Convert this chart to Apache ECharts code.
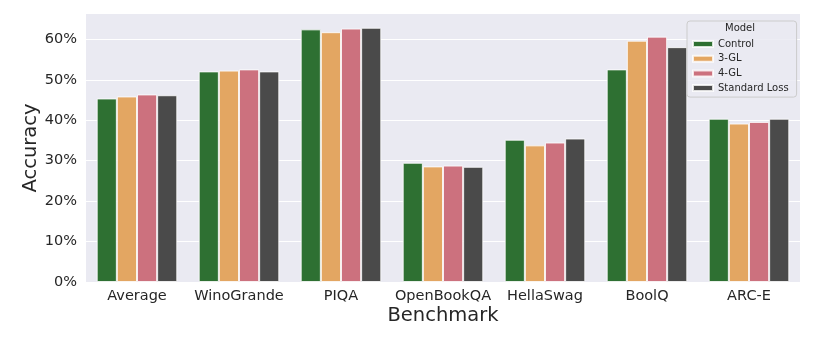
<!DOCTYPE html>
<html>
<head>
<meta charset="utf-8">
<script src="https://cdn.jsdelivr.net/npm/echarts@6/dist/echarts.min.js"></script>
<style>
html,body{margin:0;padding:0;background:#fff;}
#chart{width:821px;height:338px;}
</style>
</head>
<body>
<div id="chart"></div>
<script>
const categories = ['Average', 'WinoGrande', 'PIQA', 'OpenBookQA', 'HellaSwag', 'BoolQ', 'ARC-E'];
const seriesNames = ['Control', '3-GL', '4-GL', 'Standard Loss'];
const control = [45.4, 52.1, 62.5, 29.5, 35.2, 52.6, 40.4];
const gl3 = [45.9, 52.3, 61.8, 28.6, 33.8, 59.7, 39.2];
const gl4 = [46.4, 52.6, 62.7, 28.8, 34.5, 60.7, 39.6];
const standardLoss = [46.2, 52.1, 62.9, 28.5, 35.5, 58.1, 40.4];
const yTicks = [0, 10, 20, 30, 40, 50, 60];
const colors = ['#2e7032', '#e3a662', '#cc717e', '#4a4a4a'];

const chart = echarts.init(document.getElementById('chart'), null, {renderer: 'canvas'});
const font = 'DejaVu Sans';
const allData = [control, gl3, gl4, standardLoss];

chart.setOption({
  animation: false,
  textStyle: {fontFamily: font},
  grid: {left: 86, right: 21, top: 14, bottom: 56, backgroundColor: '#eaeaf2', show: true, borderWidth: 0},
  legend: {
    orient: 'vertical',
    left: 687, top: 21,
    padding: [18, 8, 4, 5],
    itemWidth: 20, itemHeight: 6, itemGap: 4.7,
    backgroundColor: 'rgba(234,234,242,0.85)',
    borderColor: '#cccccc', borderWidth: 1, borderRadius: 3,
    textStyle: {fontFamily: font, fontSize: 10, color: '#262626'},
    icon: 'rect',
    data: seriesNames
  },
  graphic: [{
    type: 'text', left: 725, top: 23, z: 100, zlevel: 1,
    style: {text: 'Model', fontFamily: font, fontSize: 10, fill: '#262626'}
  }],
  xAxis: {
    type: 'category',
    data: categories,
    name: 'Benchmark',
    nameLocation: 'middle',
    nameGap: 24,
    nameMoveOverlap: false,
    nameTextStyle: {fontFamily: font, fontSize: 19.5, color: '#262626'},
    axisLine: {show: false}, axisTick: {show: false},
    axisLabel: {fontFamily: font, fontSize: 14.5, color: '#262626', margin: 7, interval: 0},
  },
  yAxis: {
    type: 'value',
    min: 0, max: 66.3, interval: 10,
    name: 'Accuracy',
    nameLocation: 'middle',
    nameGap: 45,
    nameMoveOverlap: false,
    nameTextStyle: {fontFamily: font, fontSize: 19.5, color: '#262626'},
    axisLine: {show: false}, axisTick: {show: false},
    axisLabel: {fontFamily: font, fontSize: 14.5, color: '#262626', margin: 9, showMaxLabel: false,
      formatter: v => yTicks.includes(v) ? v + '%' : ''},
    splitLine: {show: true, showMaxLine: false, showMinLine: false, lineStyle: {color: '#ffffff', width: 1.2}}
  },
  series: seriesNames.map((n, i) => ({
    name: n,
    type: 'bar',
    data: allData[i],
    barGap: '0%',
    barCategoryGap: '21%',
    itemStyle: {color: colors[i], borderColor: 'rgba(255,255,255,0.8)', borderWidth: 1}
  }))
});
</script>
</body>
</html>
